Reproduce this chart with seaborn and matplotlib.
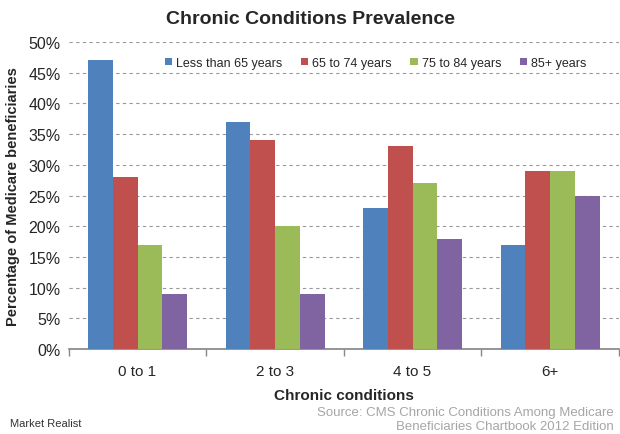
import matplotlib.pyplot as plt
import pandas as pd
import seaborn as sns


# %%
TITLE = "Chronic Conditions Prevalence"
XLABEL = "Chronic conditions"
YLABEL = "Percentage of Medicare beneficiaries"
SOURCE = "Source: CMS Chronic Conditions Among Medicare\nBeneficiaries Chartbook 2012 Edition"

CATEGORIES = ["0 to 1", "2 to 3", "4 to 5", "6+"]
SERIES = ["Less than 65 years", "65 to 74 years", "75 to 84 years", "85+ years"]
UNDER_65 = [47, 37, 23, 17]
AGE_65_74 = [28, 34, 33, 29]
AGE_75_84 = [17, 20, 27, 29]
AGE_85_PLUS = [9, 9, 18, 25]
YTICKS = [0, 5, 10, 15, 20, 25, 30, 35, 40, 45, 50]

COLORS = ["#4F81BD", "#C0504D", "#9BBB59", "#8064A2"]


# %%
def main():
    rows = []
    for name, vals in zip(SERIES, [UNDER_65, AGE_65_74, AGE_75_84, AGE_85_PLUS]):
        for cat, v in zip(CATEGORIES, vals):
            rows.append({"cond": cat, "age": name, "pct": v})
    df = pd.DataFrame(rows)

    sns.set_theme(style="white")
    plt.rcParams['font.family'] = ['Liberation Sans', 'DejaVu Sans']

    fig = plt.figure(figsize=(6.2, 4.35), dpi=100)
    ax = fig.add_axes([0.111, 0.195, 0.887, 0.706])

    sns.barplot(df, x="cond", y="pct", hue="age", hue_order=SERIES,
                order=CATEGORIES, palette=COLORS, width=0.72, saturation=1,
                linewidth=0, ax=ax, zorder=3)

    ax.set_ylim(0, 50)
    ax.set_xlim(-0.5, 3.5)
    ax.set_yticks(YTICKS)
    ax.set_yticklabels([f"{t}%" for t in YTICKS], fontsize=11.5)
    ax.set_xticks(range(len(CATEGORIES)))
    ax.set_xticklabels(CATEGORIES, fontsize=11)
    ax.tick_params(axis='x', length=0, pad=11)
    ax.tick_params(axis='y', length=0, pad=6)

    # minor ticks between groups on the category axis
    ax.set_xticks([-0.5, 0.5, 1.5, 2.5, 3.5], minor=True)
    ax.tick_params(axis='x', which='minor', length=5, color='#888888',
                   direction='out', bottom=True)

    ax.yaxis.grid(True, linestyle=(0, (3, 3)), color='#999999', linewidth=0.8)
    ax.set_axisbelow(True)
    for side in ['left', 'right', 'top']:
        ax.spines[side].set_visible(False)
    ax.spines['bottom'].set_color('#888888')

    ax.set_xlabel(XLABEL, fontsize=11, fontweight='bold', labelpad=7)
    ax.set_ylabel(YLABEL, fontsize=10.5, fontweight='bold', labelpad=6)

    ax.legend(loc='upper left', bbox_to_anchor=(0.165, 0.968), ncol=4,
              frameon=False, fontsize=9, handlelength=0.6, handleheight=0.6,
              handletextpad=0.3, columnspacing=1.5, borderaxespad=0)

    fig.text(0.5, 0.955, TITLE, ha='center', va='center', fontsize=14,
             fontweight='bold')
    fig.text(0.99, 0.035, SOURCE, ha='right', va='center', fontsize=9.5,
             color='#A6A6A6', linespacing=1.2)
    fig.text(0.016, 0.025, "Market Realist", ha='left', va='center',
             fontsize=8, color='#333333')

    fig.savefig("out.png", dpi=100)
    plt.close(fig)


# %%
if __name__ == "__main__":
    main()
